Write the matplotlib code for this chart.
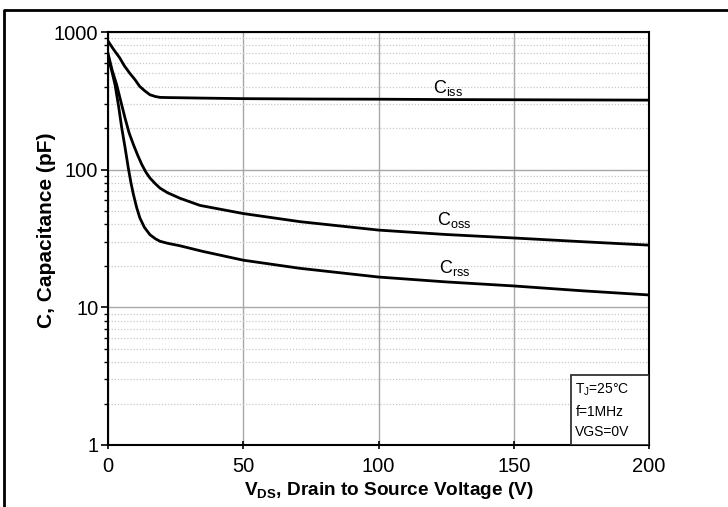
import matplotlib
matplotlib.use("Agg")
import matplotlib.pyplot as plt
from matplotlib.lines import Line2D
from matplotlib.patches import Rectangle
from matplotlib.ticker import LogLocator, NullFormatter, FixedLocator

plt.rcParams['font.family'] = ['Liberation Sans', 'DejaVu Sans']
plt.rcParams['mathtext.fontset'] = 'custom'
plt.rcParams['mathtext.rm'] = 'Liberation Sans'
plt.rcParams['mathtext.bf'] = 'Liberation Sans:bold'

# Data
v_ciss = [0, 2, 4.3, 6, 8, 10, 11.7, 13.5, 15.5, 17.5, 19.2, 22, 26.6, 35, 50, 75, 100, 125, 150, 175, 200]
c_ciss = [860, 750, 650, 570, 503, 450, 403, 375, 350, 340, 335, 334, 333, 331, 328, 326, 325, 323, 322, 321, 320]

v_coss = [0, 1.5, 3.2, 4.8, 6.3, 7.8, 9.4, 11, 12.5, 14, 15.5, 17.5, 19.2, 22, 26.6, 34, 50, 71, 100, 125, 150, 175, 200]
c_coss = [700, 530, 414, 310, 237, 185, 152, 127, 109, 96, 87, 79, 73.5, 68, 62, 55, 48, 41.9, 36.4, 33.8, 31.9, 30, 28.3]

v_crss = [0, 1.3, 2.6, 3.9, 5.1, 6.3, 7.5, 8.5, 9.4, 10.6, 11.8, 13.5, 15.5, 17.5, 19.2, 22, 26.6, 35, 50, 71, 100, 125, 150, 175, 200]
c_crss = [660, 530, 414, 290, 200, 145, 103, 80, 66, 53, 44.5, 38, 33.7, 31.5, 30.2, 29.2, 28, 25.5, 22, 19.2, 16.6, 15.3, 14.3, 13.2, 12.3]

x_ticks = [0, 50, 100, 150, 200]
y_ticks = [1, 10, 100, 1000]
y_ticklabels = ['1', '10', '100', '1000']

W, H = 728, 507
fig = plt.figure(figsize=(W / 100, H / 100), dpi=100)
ax = fig.add_axes([108 / W, 1 - 445 / H, (649 - 108) / W, (445 - 32) / H])

ax.set_yscale('log')
ax.set_xlim(0, 200)
ax.set_ylim(1, 1000)

ax.plot(v_ciss, c_ciss, color='black', lw=2, zorder=5, solid_joinstyle='round')
ax.plot(v_coss, c_coss, color='black', lw=2, zorder=5, solid_joinstyle='round')
ax.plot(v_crss, c_crss, color='black', lw=2, zorder=5, solid_joinstyle='round')

ax.xaxis.set_major_locator(FixedLocator(x_ticks))
ax.set_xticklabels([str(t) for t in x_ticks])
ax.yaxis.set_major_locator(FixedLocator(y_ticks))
ax.set_yticklabels(y_ticklabels)
ax.yaxis.set_minor_locator(LogLocator(base=10, subs=range(2, 10)))
ax.yaxis.set_minor_formatter(NullFormatter())

ax.grid(True, which='major', color='#a8a8a8', lw=1.0, ls='-')
ax.grid(True, which='minor', axis='y', color='#c8c8c8', lw=0.9, ls=(0, (1, 1.5)))
ax.set_axisbelow(True)

ax.tick_params(axis='both', which='major', labelsize=14.5, direction='out', length=5, width=1.2, color='black')
ax.tick_params(axis='y', which='major', pad=2)
ax.tick_params(axis='y', which='minor', direction='out', length=3, width=1.0)
ax.tick_params(axis='x', which='major', direction='inout', length=6, pad=6)

for s in ax.spines.values():
    s.set_linewidth(1.5)
    s.set_color('black')

ax.set_xlabel(r'V$_{\mathbf{DS}}$, Drain to Source Voltage (V)', fontsize=13.7, fontweight='bold')
ax.xaxis.label.set_va('center')
ax.xaxis.set_label_coords(0.519, -0.109)
ax.set_ylabel('C, Capacitance (pF)', fontsize=15, fontweight='bold')
ax.yaxis.label.set_va('center')
ax.yaxis.set_label_coords(-0.113, 0.52)

ax.text(120.1, 360, r'C$_{\mathrm{iss}}$', fontsize=13, ha='left', va='baseline')
ax.text(121.6, 39.6, r'C$_{\mathrm{oss}}$', fontsize=13, ha='left', va='baseline')
ax.text(122.4, 17.7, r'C$_{\mathrm{rss}}$', fontsize=13, ha='left', va='baseline')

# condition box
ax.add_patch(Rectangle((171.2, 1), 28.8, 2.22, facecolor='white', edgecolor='#333333', lw=1.3, zorder=6))
ax.text(172.8, 2.51, r'T$_{\mathrm{J}}$=25°C', fontsize=10, va='center', ha='left', zorder=7)
ax.text(172.8, 1.74, 'f=1MHz', fontsize=10, va='center', ha='left', zorder=7)
ax.text(172.8, 1.24, 'VGS=0V', fontsize=10, va='center', ha='left', zorder=7)

# outer frame (top and left edges)
fig.add_artist(Line2D([3.5 / W, 3.5 / W, 1.0], [0.0, 1 - 10 / H, 1 - 10 / H],
                      transform=fig.transFigure, color='black', lw=2))

fig.savefig('out.png', dpi=100)
